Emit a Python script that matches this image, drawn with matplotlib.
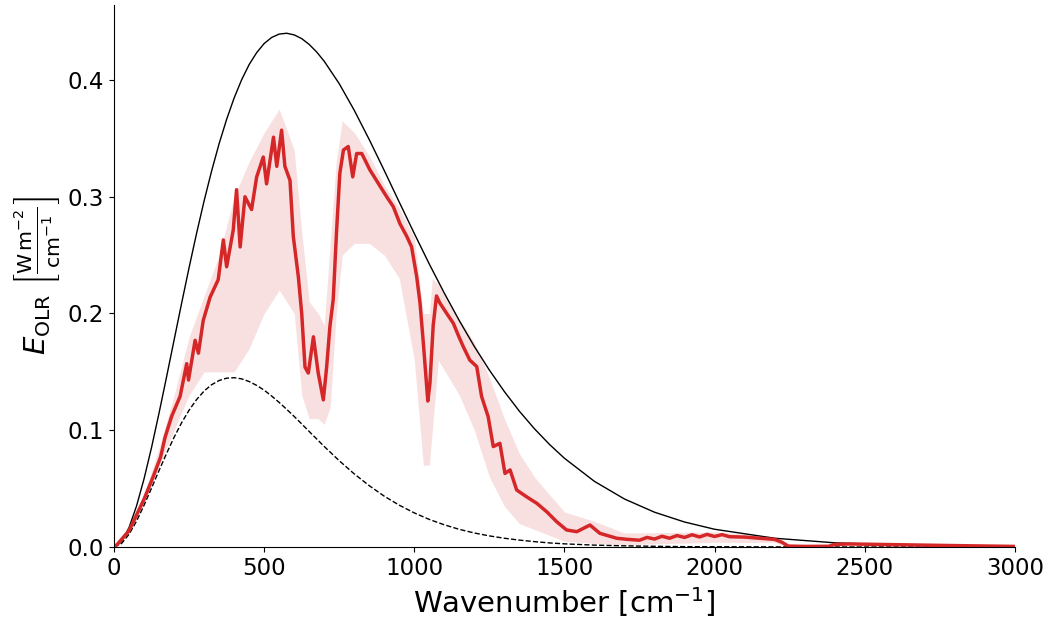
import matplotlib
matplotlib.use("Agg")
import matplotlib.pyplot as plt

# wavenumber grid for the two reference blackbody curves [cm^-1]
planck_nu = [0, 25, 50, 75, 100, 125, 150, 175, 200, 225, 250, 275, 300, 325, 350,
             375, 400, 425, 450, 475, 500, 525, 550, 575, 600, 625, 650, 675, 700,
             750, 800, 850, 900, 950, 1000, 1050, 1100, 1150, 1200, 1250, 1300, 1350,
             1400, 1450, 1500, 1600, 1700, 1800, 1900, 2000, 2200, 2400, 2600, 2800,
             3000]
# surface emission (solid) and cold emission (dashed)
planck_hot = [0.0, 0.0044, 0.0167, 0.0352, 0.0585, 0.0854, 0.1149, 0.1458, 0.1773,
              0.2087, 0.2394, 0.2688, 0.2965, 0.3221, 0.3455, 0.3663, 0.3846, 0.4002,
              0.4132, 0.4234, 0.4312, 0.4364, 0.4393, 0.4400, 0.4386, 0.4354, 0.4304,
              0.4239, 0.4160, 0.3968, 0.3740, 0.3489, 0.3224, 0.2953, 0.2685, 0.2423,
              0.2174, 0.1938, 0.1717, 0.1515, 0.1331, 0.1163, 0.1013, 0.0879, 0.0760,
              0.0562, 0.0411, 0.0298, 0.0214, 0.0152, 0.0075, 0.0036, 0.0017, 0.0008,
              0.0004]
planck_cold = [0.0, 0.0030, 0.0109, 0.0222, 0.0358, 0.0505, 0.0656, 0.0802, 0.0940,
               0.1064, 0.1172, 0.1263, 0.1336, 0.1390, 0.1426, 0.1446, 0.1450, 0.1440,
               0.1417, 0.1384, 0.1343, 0.1293, 0.1238, 0.1179, 0.1118, 0.1054, 0.0989,
               0.0925, 0.0861, 0.0739, 0.0626, 0.0525, 0.0435, 0.0358, 0.0292, 0.0236,
               0.0190, 0.0151, 0.0120, 0.0095, 0.0075, 0.0059, 0.0046, 0.0035, 0.0027,
               0.0016, 0.0010, 0.0006, 0.0003, 0.0002, 0.0001, 0.0, 0.0, 0.0, 0.0]

# smoothed OLR spectrum
olr_nu = [0, 10, 50, 100, 130, 155, 170, 192, 220, 242, 248, 270, 281, 297, 320, 347,
          364, 375, 397, 408, 420, 436, 458, 475, 497, 508, 531, 542, 558, 569, 586,
          597, 614, 625, 636, 647, 664, 680, 697, 708, 719, 730, 741, 752, 764, 780,
          795, 808, 825, 852, 886, 908, 930, 952, 975, 991, 1008, 1019, 1030, 1045,
          1052, 1063, 1074, 1085, 1108, 1130, 1147, 1163, 1185, 1208, 1224, 1246,
          1263, 1285, 1302, 1319, 1341, 1374, 1408, 1441, 1474, 1507, 1541, 1585,
          1618, 1674, 1707, 1750, 1775, 1800, 1825, 1850, 1875, 1900, 1925, 1950,
          1975, 2000, 2025, 2050, 2100, 2150, 2200, 2225, 2245, 2300, 2380, 2400,
          2450, 2600, 2800, 3000]
olr_E = [0.0, 0.002, 0.014, 0.041, 0.060, 0.077, 0.094, 0.112, 0.129, 0.157, 0.143,
         0.177, 0.166, 0.194, 0.214, 0.229, 0.263, 0.240, 0.2715, 0.306, 0.257, 0.300,
         0.289, 0.317, 0.334, 0.311, 0.351, 0.326, 0.357, 0.326, 0.314, 0.266, 0.231,
         0.200, 0.154, 0.149, 0.180, 0.149, 0.126, 0.154, 0.189, 0.212, 0.270, 0.320,
         0.340, 0.343, 0.317, 0.337, 0.337, 0.323, 0.309, 0.300, 0.2915, 0.277, 0.266,
         0.257, 0.2315, 0.209, 0.175, 0.125, 0.140, 0.190, 0.215, 0.209, 0.200, 0.1916,
         0.181, 0.1716, 0.160, 0.1545, 0.129, 0.1116, 0.086, 0.0888, 0.063, 0.066,
         0.0488, 0.043, 0.0374, 0.0302, 0.0217, 0.0146, 0.0131, 0.0188, 0.0117, 0.0075,
         0.0066, 0.0058, 0.0082, 0.0068, 0.0092, 0.0075, 0.0098, 0.0082, 0.0105, 0.0086,
         0.0108, 0.0090, 0.0106, 0.0088, 0.0085, 0.0075, 0.0065, 0.0040, 0.0008, 0.0005,
         0.0006, 0.0022, 0.0026, 0.0020, 0.0012, 0.0005]

# envelope of the line-by-line spectrum (thin red)
env_nu = [0, 50, 100, 150, 200, 250, 300, 350, 400, 450, 500, 550, 600, 625, 650,
          680, 700, 720, 740, 760, 800, 850, 900, 950, 1000, 1030, 1050, 1060, 1080,
          1150, 1200, 1250, 1300, 1350, 1400, 1450, 1500, 1600, 1700, 2000, 2200,
          2230, 2250, 3000]
env_hi = [0.0, 0.016, 0.045, 0.085, 0.130, 0.180, 0.215, 0.250, 0.300, 0.330, 0.355,
          0.375, 0.340, 0.270, 0.210, 0.200, 0.190, 0.260, 0.330, 0.365, 0.355, 0.335,
          0.310, 0.290, 0.265, 0.200, 0.200, 0.230, 0.225, 0.195, 0.175, 0.145, 0.110,
          0.080, 0.060, 0.045, 0.030, 0.022, 0.012, 0.013, 0.009, 0.005, 0.001, 0.001]
env_lo = [0.0, 0.011, 0.036, 0.070, 0.100, 0.130, 0.150, 0.150, 0.150, 0.170, 0.200,
          0.220, 0.200, 0.130, 0.110, 0.110, 0.105, 0.120, 0.200, 0.250, 0.260, 0.260,
          0.250, 0.230, 0.160, 0.070, 0.070, 0.100, 0.160, 0.130, 0.100, 0.060, 0.035,
          0.020, 0.015, 0.010, 0.005, 0.003, 0.002, 0.004, 0.004, 0.001, 0.0, 0.0]

red = "#d62728"

fig = plt.figure(figsize=(10.56, 6.24), dpi=100)
ax = fig.add_axes([0.108, 0.1234, 0.853, 0.8686])

ax.fill_between(env_nu, env_lo, env_hi, color=red, alpha=0.14, lw=0)
ax.plot(planck_nu, planck_hot, color="black", lw=1.0)
ax.plot(planck_nu, planck_cold, color="black", lw=1.0, ls="--")
ax.plot(olr_nu, olr_E, color=red, lw=2.5)

ax.set_xlim(0, 3000)
ax.set_ylim(0, 0.4642)
ax.set_yticks([0.0, 0.1, 0.2, 0.3, 0.4])
ax.tick_params(labelsize=16.5)
ax.spines["top"].set_visible(False)
ax.spines["right"].set_visible(False)

ax.set_xlabel(r"Wavenumber [cm$^{-1}$]", fontsize=21)
ax.set_ylabel(r"$E_\mathrm{OLR}$ $\left[\frac{\mathrm{W\,m^{-2}}}{\mathrm{cm^{-1}}}\right]$",
              fontsize=21)

fig.savefig("out.png", dpi=100)
